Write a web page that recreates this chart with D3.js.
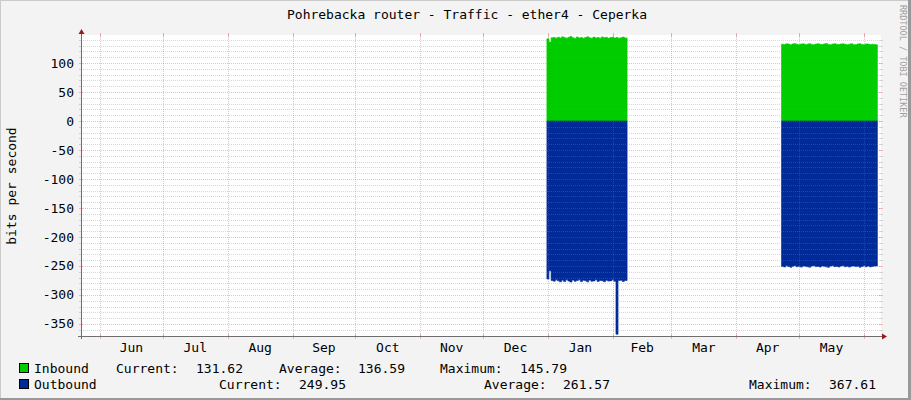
<!DOCTYPE html>
<html><head><meta charset="utf-8">
<script src="https://cdn.jsdelivr.net/npm/d3@7"></script>
<style>
html,body{margin:0;padding:0;background:#F3F3F3;}
svg{display:block;}
text{font-family:"DejaVu Sans Mono",monospace;fill:#000;}
</style></head><body>
<svg id="chart" width="911" height="400"></svg>
<script>
// ---- data ----
const title = "Pohrebacka router - Traffic - ether4 - Ceperka";
const yAxisLabel = "bits per second";
const timeStart = "2013-05-22T22:00:00Z";
const timeEnd = "2014-06-09T03:00:00Z";
const monthStarts = ["2013-06-01","2013-07-01","2013-08-01","2013-09-01","2013-10-01","2013-11-01","2013-12-01","2014-01-01","2014-02-01","2014-03-01","2014-04-01","2014-05-01","2014-06-01"];
const monthLabels = ["Jun","Jul","Aug","Sep","Oct","Nov","Dec","Jan","Feb","Mar","Apr","May"];
const yTicks = [100,50,0,-50,-100,-150,-200,-250,-300,-350];
const yDomain = [-370.7, 148.3];

// block 1 (daily samples)
const block1Start = "2013-12-31T12:00:00Z";
const block1End = "2014-02-07T20:00:00Z";
const inboundJan = [141.8,136.2,143.5,144.1,142.9,144.6,143.2,145.1,143.8,142.7,144.3,145.8,143.6,142.4,144.9,143.1,144.2,142.8,143.9,145.2,143.4,142.6,144.7,143.3,144.0,142.9,145.0,143.7,144.4,142.5,143.8,144.6,143.0,144.1,142.8,143.5,144.8,143.2];
const outboundJan = [-272.5,-258.4,-274.8,-276.1,-273.9,-275.6,-277.2,-274.4,-276.8,-273.5,-275.9,-277.6,-274.2,-276.4,-275.1,-273.8,-276.9,-274.7,-275.5,-277.3,-274.1,-276.2,-275.8,-273.6,-276.6,-274.9,-275.3,-277.0,-274.5,-276.0,-275.7,-273.9,-276.3,-367.61,-275.2,-274.6,-276.7,-275.0];

// block 2 (daily samples)
const block2Start = "2014-04-22T14:00:00Z";
const block2End = "2014-06-07T10:00:00Z";
const inboundApr = [132.4,131.8,133.1,132.6,131.5,132.9,133.4,132.2,131.7,132.8,133.0,131.9,132.5,133.3,132.1,131.6,132.7,133.2,132.3,131.8,132.9,133.5,132.0,131.4,132.6,133.1,132.4,131.9,132.8,133.0,132.2,131.7,132.5,133.3,132.0,131.6,132.7,133.2,132.1,131.5,132.9,132.6,131.8,132.3,131.9,131.62];
const outboundApr = [-250.8,-251.6,-249.7,-250.9,-252.1,-250.3,-249.4,-251.2,-250.6,-251.9,-249.8,-250.5,-251.4,-252.0,-250.1,-249.6,-251.0,-250.7,-251.8,-249.9,-250.4,-251.5,-252.2,-250.2,-249.5,-251.1,-250.8,-251.7,-250.0,-249.7,-251.3,-250.6,-251.9,-250.3,-249.8,-251.0,-250.5,-252.1,-250.9,-249.6,-251.4,-250.2,-251.6,-250.7,-250.1,-249.95];

const legendRows = [
  {name:"Inbound", color:"#00CC00", cur:"131.62", avg:"136.59", max:"145.79"},
  {name:"Outbound", color:"#002A97", cur:"249.95", avg:"261.57", max:"367.61"}
];

// ---- drawing ----
const svg = d3.select("#chart");
const W = 911, H = 400;
const L = 81, R = 881, T = 35, B = 336;
const parse = s => new Date(s);

const x = d3.scaleUtc().domain([parse(timeStart), parse(timeEnd)]).range([L, R]);
const y = d3.scaleLinear().domain(yDomain).range([B, T]);

// frame
svg.append("rect").attr("x",0).attr("y",0).attr("width",W).attr("height",H).attr("fill","#F3F3F3");
svg.append("line").attr("x1",0).attr("x2",W).attr("y1",0.5).attr("y2",0.5).attr("stroke","#CBCBCB");
svg.append("line").attr("x1",0.5).attr("x2",0.5).attr("y1",0).attr("y2",H).attr("stroke","#CBCBCB");
svg.append("line").attr("x1",W-1.5).attr("x2",W-1.5).attr("y1",0).attr("y2",H).attr("stroke","#999").attr("stroke-width",3);
svg.append("line").attr("x1",0).attr("x2",W).attr("y1",H-1).attr("y2",H-1).attr("stroke","#999").attr("stroke-width",2);

// plot bg
svg.append("rect").attr("x",L).attr("y",T).attr("width",R-L).attr("height",B-T).attr("fill","#FFFFFF");

// data blocks
const DAY = 86400000;
function series(start, end, vals){
  const s = parse(start).getTime();
  const pts = vals.map((v,i)=>({t:new Date(s+i*DAY), v}));
  pts.push({t:parse(end), v:vals[vals.length-1]});
  return pts;
}
const area = d3.area().x(d=>x(d.t)).y0(y(0)).y1(d=>y(d.v)).curve(d3.curveStepAfter);
const blocks = [
  {data:series(block1Start, block1End, inboundJan), color:"#00CC00"},
  {data:series(block1Start, block1End, outboundJan), color:"#002A97"},
  {data:series(block2Start, block2End, inboundApr), color:"#00CC00"},
  {data:series(block2Start, block2End, outboundApr), color:"#002A97"}
];
svg.append("g").selectAll("path").data(blocks).join("path")
  .attr("d", d=>area(d.data)).attr("fill", d=>d.color).attr("stroke", d=>d.color).attr("stroke-width",0.6);

// grid (drawn over data, semi-transparent)
const g = svg.append("g");
const minorTicks = d3.range(-370, 149, 10).filter(v=>v%50!==0);
const minorCol = "rgba(130,130,130,0.32)";
const majorCol = "rgba(240,60,60,0.36)";
minorTicks.forEach(v=>{
  const yy = Math.round(y(v))+0.5;
  g.append("line").attr("x1",L).attr("x2",R).attr("y1",yy).attr("y2",yy)
    .attr("stroke",minorCol).attr("stroke-dasharray","1,1");
  g.append("line").attr("x1",L-2).attr("x2",L+1).attr("y1",yy).attr("y2",yy).attr("stroke",minorCol);
  g.append("line").attr("x1",R-1).attr("x2",R+2).attr("y1",yy).attr("y2",yy).attr("stroke",minorCol);
});
yTicks.forEach(v=>{
  const yy = Math.round(y(v))+0.5;
  g.append("line").attr("x1",L).attr("x2",R).attr("y1",yy).attr("y2",yy)
    .attr("stroke",majorCol).attr("stroke-dasharray","1,1");
  g.append("line").attr("x1",L-2).attr("x2",L+2).attr("y1",yy).attr("y2",yy).attr("stroke",majorCol);
  g.append("line").attr("x1",R-2).attr("x2",R+2).attr("y1",yy).attr("y2",yy).attr("stroke",majorCol);
});
monthStarts.forEach(s=>{
  const xx = Math.round(x(parse(s)))+0.5;
  if (xx < L || xx > R) return;
  g.append("line").attr("x1",xx).attr("x2",xx).attr("y1",T).attr("y2",B)
    .attr("stroke",majorCol).attr("stroke-dasharray","1,1");
  g.append("line").attr("x1",xx).attr("x2",xx).attr("y1",T-2).attr("y2",T+2).attr("stroke",majorCol);
  g.append("line").attr("x1",xx).attr("x2",xx).attr("y1",B-2).attr("y2",B+3).attr("stroke",majorCol);
});

// axes
const axisCol = "#6E6E6E", arrowCol = "#9A1B1B";
svg.append("line").attr("x1",L-3).attr("x2",R+2).attr("y1",B+0.5).attr("y2",B+0.5).attr("stroke",axisCol);
svg.append("line").attr("x1",L+0.5).attr("x2",L+0.5).attr("y1",B+3).attr("y2",T-3).attr("stroke",axisCol);
svg.append("path").attr("d",`M${L-2.5},${T-1}L${L+3.5},${T-1}L${L+0.5},${T-6}Z`).attr("fill",arrowCol);
svg.append("path").attr("d",`M${R+1},${B-2.5}L${R+1},${B+3.5}L${R+6},${B+0.5}Z`).attr("fill",arrowCol);

// y tick labels
svg.append("g").selectAll("text").data(yTicks).join("text")
  .attr("x",74).attr("y",d=>y(d)+4.5).attr("text-anchor","end")
  .attr("font-size","13px").text(d=>String(d));

// month labels
const ms = monthStarts.map(parse);
svg.append("g").selectAll("text").data(monthLabels).join("text")
  .attr("x",(d,i)=>(x(ms[i])+x(ms[i+1]))/2).attr("y",352).attr("text-anchor","middle")
  .attr("font-size","13px").text(d=>d);

// title
svg.append("text").attr("x",467).attr("y",19).attr("text-anchor","middle")
  .attr("font-size","13px").text(title);

// y axis label
svg.append("text").attr("transform","translate(16,186) rotate(-90)").attr("text-anchor","middle")
  .attr("font-size","13px").text(yAxisLabel);

// watermark
svg.append("text").attr("transform","translate(900,5) rotate(90)").attr("text-anchor","start")
  .attr("font-size","8.5px").style("fill","#A0A0A0").text("RRDTOOL / TOBI OETIKER");

// legend
const rowPos = [
  {y:373, name:34, cl:116, cv:196, al:279, av:358, ml:440, mv:520},
  {y:389, name:34, cl:219, cv:299, al:484, av:563, ml:749, mv:829}
];
legendRows.forEach((r,i)=>{
  const p = rowPos[i];
  svg.append("rect").attr("x",19.5).attr("y",p.y-9.5).attr("width",9).attr("height",9)
    .attr("fill",r.color).attr("stroke","#000");
  const t = (xx,s)=>svg.append("text").attr("x",xx).attr("y",p.y).attr("font-size","13px").text(s);
  t(p.name, r.name);
  t(p.cl, "Current:"); t(p.cv, r.cur);
  t(p.al, "Average:"); t(p.av, r.avg);
  t(p.ml, "Maximum:"); t(p.mv, r.max);
});
</script>
</body></html>
